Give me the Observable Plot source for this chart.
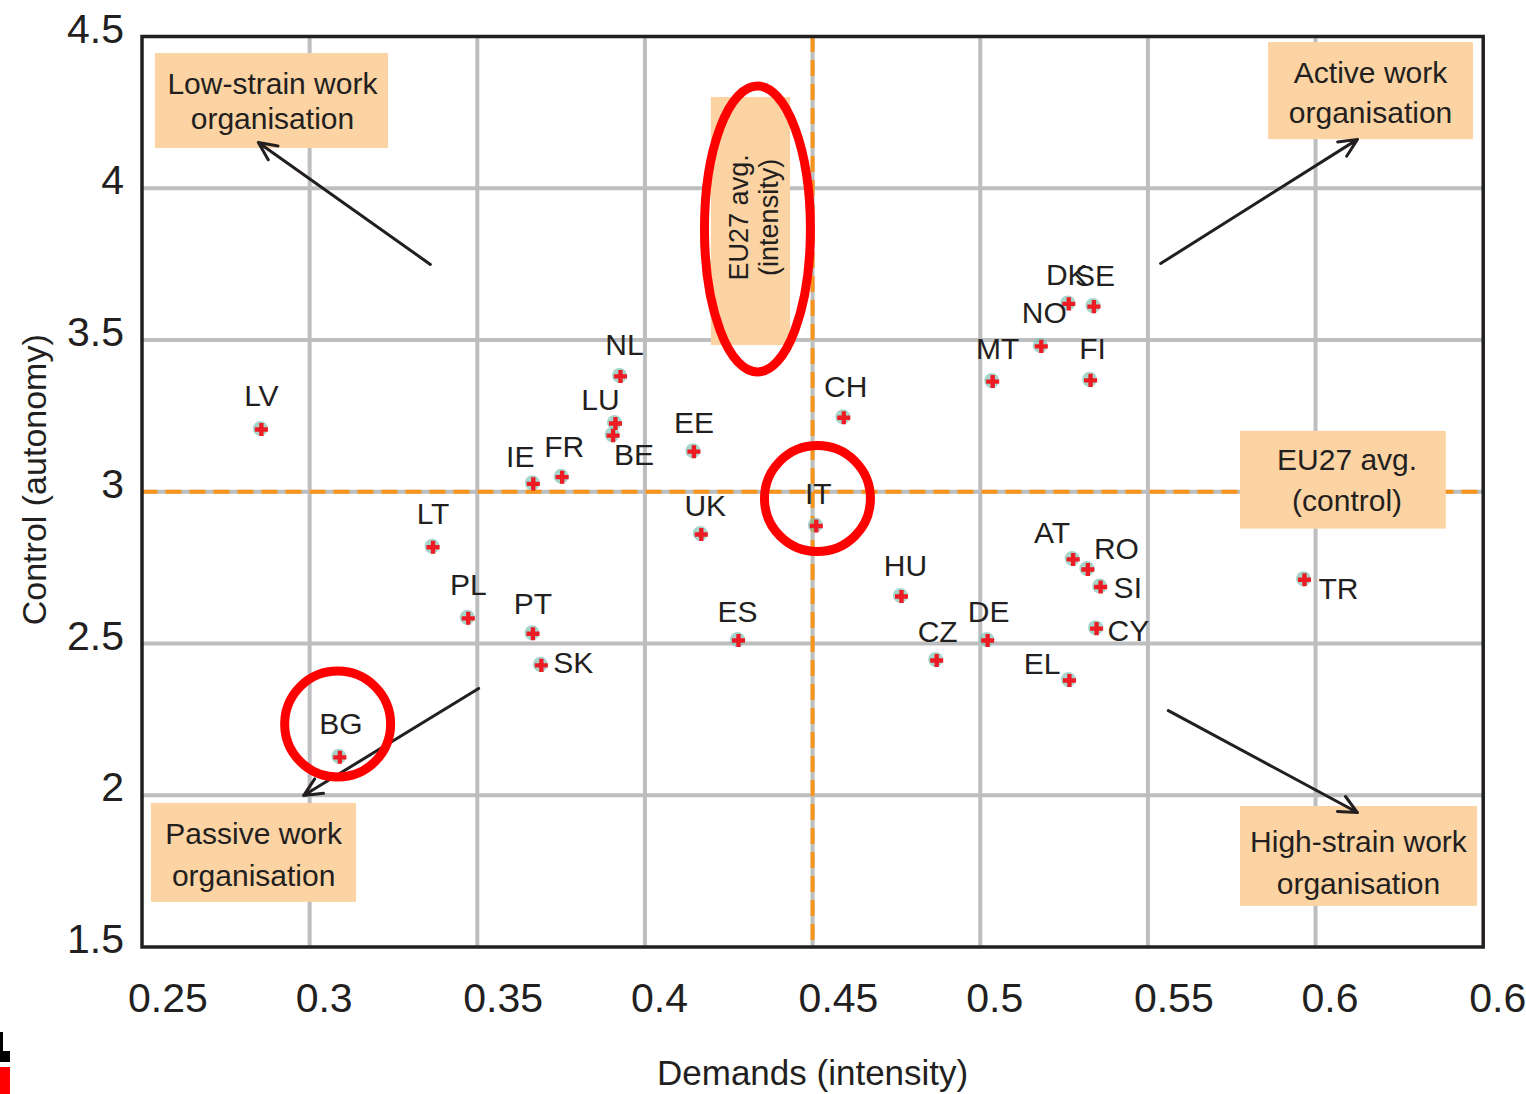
<!DOCTYPE html>
<html>
<head>
<meta charset="utf-8">
<script src="https://cdn.jsdelivr.net/npm/d3@7"></script>
<script src="https://cdn.jsdelivr.net/npm/@observablehq/plot@0.6"></script>
<style>
  html, body { margin: 0; padding: 0; background: #fff; }
  #wrap { position: relative; width: 1526px; height: 1094px; overflow: hidden; }
  .corner { position: absolute; }
</style>
</head>
<body>
<div id="wrap"></div>
<script>
// ---------------- data ----------------
const codes = ["LV","LT","PL","BG","PT","SK","IE","FR","NL","LU","BE","EE","UK","ES","IT","CH","HU","CZ","DE","MT","NO","DK","SE","FI","AT","RO","SI","CY","EL","TR"];
const demands = [0.2856,0.3368,0.3473,0.3090,0.3666,0.3691,0.3667,0.3753,0.3927,0.3912,0.3905,0.4146,0.4168,0.4279,0.4511,0.4593,0.4765,0.4870,0.5022,0.5037,0.5182,0.5264,0.5339,0.5329,0.5277,0.5321,0.5359,0.5347,0.5266,0.5967];
const control = [3.205,2.817,2.583,2.125,2.532,2.428,3.026,3.048,3.380,3.225,3.185,3.132,2.859,2.510,2.887,3.244,2.655,2.444,2.510,3.363,3.479,3.619,3.610,3.367,2.777,2.744,2.686,2.549,2.378,2.710];

const eu27Demands = 0.45;
const eu27Control = 3.0;

const xTicks = [0.25,0.3,0.35,0.4,0.45,0.5,0.55,0.6,0.65];
const xTickLabels = ["0.25","0.3","0.35","0.4","0.45","0.5","0.55","0.6","0.65"];
const yTicks = [1.5,2,2.5,3,3.5,4,4.5];
const yTickLabels = ["1.5","2","2.5","3","3.5","4","4.5"];
const xGrid = [0.3,0.35,0.4,0.45,0.5,0.55,0.6];
const yGrid = [2,2.5,3,3.5,4];

const xTitle = "Demands (intensity)";
const yTitle = "Control (autonomy)";

// annotation boxes (data coordinates)
const notes = [
  {text: "Low-strain work\norganisation", x1: 0.2540, x2: 0.3235, y1: 4.131, y2: 4.444, tx: 0.2889, ty: 4.291, lh: 1.17},
  {text: "Active work\norganisation", x1: 0.5860, x2: 0.6471, y1: 4.160, y2: 4.480, tx: 0.6164, ty: 4.322, lh: 1.33},
  {text: "EU27 avg.\n(control)", x1: 0.5776, x2: 0.6390, y1: 2.877, y2: 3.199, tx: 0.6094, ty: 3.047, lh: 1.35},
  {text: "Passive work\norganisation", x1: 0.2528, x2: 0.3140, y1: 1.647, y2: 1.973, tx: 0.2833, ty: 1.815, lh: 1.4},
  {text: "High-strain work\norganisation", x1: 0.5776, x2: 0.6483, y1: 1.634, y2: 1.963, tx: 0.6128, ty: 1.788, lh: 1.4}
];
const intensityNote = {text: "EU27 avg.\n(intensity)", x1: 0.4198, x2: 0.4434, y1: 3.482, y2: 4.299, tx: 0.4324, ty: 3.904};

const arrows = [
  {x1: 0.3360, y1: 3.749, x2: 0.2847, y2: 4.151},
  {x1: 0.5538, y1: 3.752, x2: 0.6125, y2: 4.161},
  {x1: 0.3504, y1: 2.352, x2: 0.2982, y2: 1.999},
  {x1: 0.5561, y1: 2.279, x2: 0.6125, y2: 1.943}
];

// red highlight ellipses (centre and radii in data units)
const highlights = [
  {x: 0.4337, y: 3.864, rx: 0.0158, ry: 0.471},
  {x: 0.4516, y: 2.976, rx: 0.0158, ry: 0.1746},
  {x: 0.3085, y: 2.233, rx: 0.0158, ry: 0.1746}
];

// label placement (pixel offsets, anchor) - layout only
const labelPlace = {
  LV:[0,-33,"middle"], LT:[0,-33,"middle"], PL:[0,-33,"middle"], PT:[0,-29,"middle"],
  SK:[12,-2,"start"], BG:[1,-33,"middle"], IE:[-13,-26,"middle"], FR:[2,-30,"middle"],
  NL:[4,-31,"middle"], LU:[-15,-23,"middle"], BE:[21,20,"middle"], EE:[0,-28,"middle"],
  UK:[4,-28,"middle"], ES:[-1,-28,"middle"], IT:[2,-32,"middle"], CH:[2,-30,"middle"],
  HU:[4,-30,"middle"], CZ:[1,-28,"middle"], DE:[1,-28,"middle"], MT:[5,-32,"middle"],
  NO:[3,-33,"middle"], DK:[-2,-28,"middle"], SE:[1,-30,"middle"], FI:[2,-31,"middle"],
  AT:[-21,-26,"middle"], RO:[6,-20,"start"], SI:[13,1,"start"], CY:[11,3,"start"],
  EL:[-9,-16,"end"], TR:[14,10,"start"]
};

// ---------------- build ----------------
const rows = codes.map((c, i) => ({code: c, demands: demands[i], control: control[i]}));

const ink = "#231f20";
const peach = "#fcd3a2";
const orange = "#f7941d";
const gridGray = "#bdbec0";

const labelMarks = rows.map(r => {
  const [dx, dy, anchor] = labelPlace[r.code];
  return Plot.text([r], {x: "demands", y: "control", text: "code", dx, dy, textAnchor: anchor, fontSize: 30, fill: ink});
});

const noteTextMarks = notes.map(n => Plot.text([n], {x: "tx", y: "ty", text: "text", fontSize: 30, lineHeight: n.lh, fill: ink}));

const chart = Plot.plot({
  width: 1526,
  height: 1094,
  marginLeft: 141.5,
  marginRight: 43.3,
  marginTop: 36,
  marginBottom: 147.5,
  style: {fontFamily: "'Liberation Sans', Arial, sans-serif", background: "white", color: ink},
  x: {domain: [0.25, 0.65]},
  y: {domain: [1.5, 4.5]},
  marks: [
    Plot.gridX(xGrid, {stroke: gridGray, strokeWidth: 4, strokeOpacity: 1}),
    Plot.gridY(yGrid, {stroke: gridGray, strokeWidth: 4, strokeOpacity: 1}),
    Plot.ruleX([eu27Demands], {stroke: orange, strokeWidth: 4, strokeDasharray: "16,8"}),
    Plot.ruleY([eu27Control], {stroke: orange, strokeWidth: 4, strokeDasharray: "16,8"}),
    Plot.rect(notes, {x1: "x1", x2: "x2", y1: "y1", y2: "y2", fill: peach}),
    Plot.rect([intensityNote], {x1: "x1", x2: "x2", y1: "y1", y2: "y2", fill: peach}),
    ...noteTextMarks,
    Plot.text([intensityNote], {x: "tx", y: "ty", text: "text", rotate: -90, fontSize: 27, lineHeight: 1.1, fill: ink}),
    Plot.arrow(arrows, {x1: "x1", y1: "y1", x2: "x2", y2: "y2", stroke: ink, strokeWidth: 3, headLength: 10, headAngle: 50}),
    Plot.dot(rows, {x: "demands", y: "control", r: 7.5, fill: "#7fc3b5", fillOpacity: 0.7, dx: -1, dy: -1}),
    Plot.dot(rows, {x: "demands", y: "control", r: 5.5, symbol: "cross", fill: "#ed1c24", stroke: "none"}),
    ...labelMarks,
    Plot.axisX(xTicks, {tickSize: 0, tickPadding: 36, fontSize: 41, textAnchor: "start", dx: -14,
      tickFormat: (d) => xTickLabels[xTicks.indexOf(d)], label: null, fill: ink}),
    Plot.axisY(yTicks, {tickSize: 0, tickPadding: 18, fontSize: 41, dy: -7,
      tickFormat: (d) => yTickLabels[yTicks.indexOf(d)], label: null, fill: ink}),
    Plot.text([yTitle], {frameAnchor: "left", textAnchor: "middle", text: d => d, rotate: -90, dx: -106.5, dy: -12, fontSize: 34, fill: ink, letterSpacing: 1}),
    Plot.text([xTitle], {frameAnchor: "bottom", textAnchor: "middle", text: d => d, dy: 138, fontSize: 35, fill: ink}),
    Plot.frame({stroke: ink, strokeWidth: 3.5})
  ]
});

// red highlight ellipses via the plot's own scales
const sx = chart.scale("x"), sy = chart.scale("y");
d3.select(chart).append("g")
  .selectAll("ellipse")
  .data(highlights)
  .join("ellipse")
  .attr("cx", d => sx.apply(d.x))
  .attr("cy", d => sy.apply(d.y))
  .attr("rx", d => Math.abs(sx.apply(d.x + d.rx) - sx.apply(d.x)))
  .attr("ry", d => Math.abs(sy.apply(d.y + d.ry) - sy.apply(d.y)))
  .attr("fill", "none")
  .attr("stroke", "#ff0000")
  .attr("stroke-width", 9);

const wrap = document.getElementById("wrap");
wrap.appendChild(chart);

// cropped logo fragment at the bottom-left edge
const frag = [
  {l: 0, t: 1032, w: 3, h: 30, c: "#000"},
  {l: 0, t: 1051, w: 10, h: 11, c: "#000"},
  {l: 0, t: 1067, w: 10, h: 27, c: "#ff0000"}
];
frag.forEach(f => {
  const el = document.createElement("div");
  el.className = "corner";
  Object.assign(el.style, {left: f.l + "px", top: f.t + "px", width: f.w + "px", height: f.h + "px", background: f.c});
  wrap.appendChild(el);
});
</script>
</body>
</html>
